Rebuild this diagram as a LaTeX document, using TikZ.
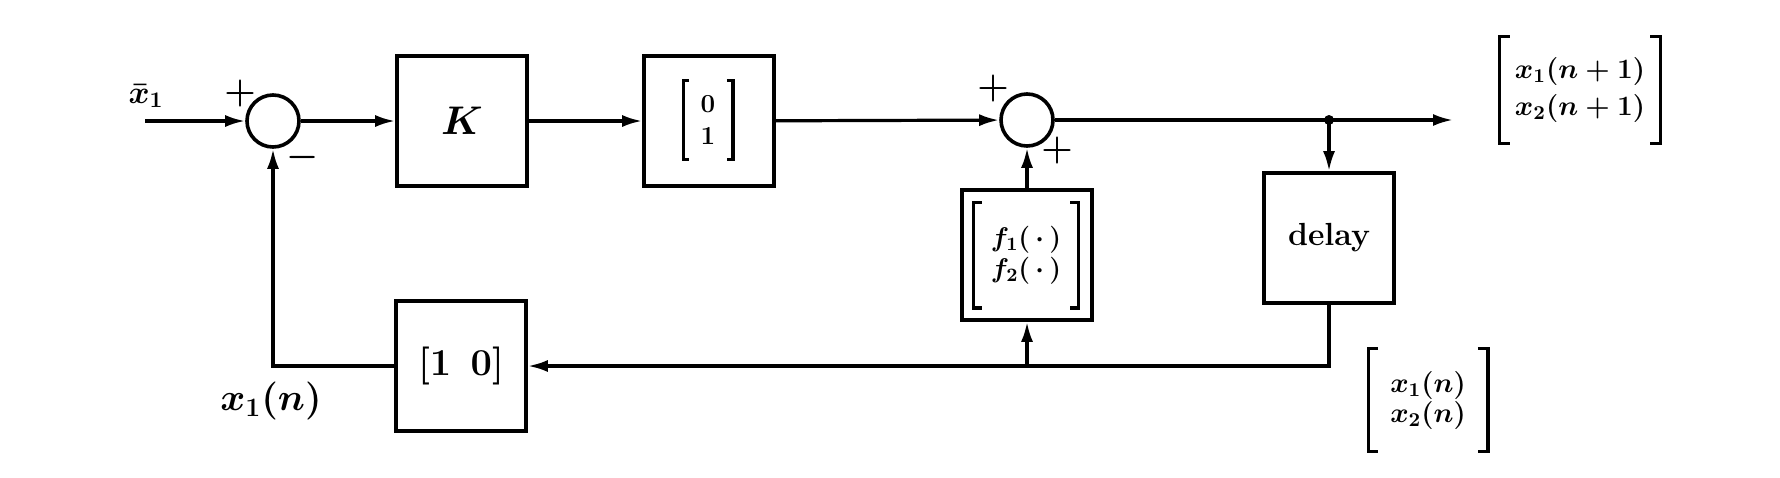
\RequirePackage{fix-cm}
\documentclass[tikz,border=0pt]{standalone}
\usetikzlibrary{arrows.meta}
\newcommand\drawbrk[2]{%
  \draw[brk] ([xshift=#2]#1.north west) -- (#1.north west) -- (#1.south west) -- ([xshift=#2]#1.south west);
  \draw[brk] ([xshift=-#2]#1.north east) -- (#1.north east) -- (#1.south east) -- ([xshift=-#2]#1.south east);}
\begin{document}
\boldmath
\begin{tikzpicture}[x=0.5pt,y=-0.5pt,
  blk/.style={draw,line width=1.8pt,minimum width=65pt,minimum height=65pt,inner sep=0pt},
  sumc/.style={draw,circle,line width=1.8pt,minimum size=26pt,inner sep=0pt},
  wire/.style={line width=1.6pt},
  arr/.style={wire,-{Latex[length=10pt,width=6pt]}},
  sgn/.style={inner sep=0pt,font=\fontsize{18}{18}\selectfont},
  lbl/.style={inner sep=0pt,align=center},
  brk/.style={line width=1.6pt}
]
\fill[white] (0,0) rectangle (1780,477);
\useasboundingbox (0,0) rectangle (1780,477);

% nodes
\coordinate (in) at (145,121);
\node[sumc] (s1) at (273,121) {};
\node[blk] (K) at (462,121) {\fontsize{20}{24}\selectfont $K$};
\node[blk] (B) at (709,121) {};
\node[lbl,minimum width=24.5pt,minimum height=39pt,font=\fontsize{13}{16}\selectfont] (Bi) at (708,120) {$0$\\$1$};
\node[sumc] (s2) at (1027,120) {};
\node[blk] (F) at (1027,255) {};
\node[lbl,minimum width=52pt,minimum height=52.5pt,font=\fontsize{13.5}{15.5}\selectfont] (Fi) at (1026,255) {$f_1(\,\cdot\,)$\\$f_2(\,\cdot\,)$};
\node[blk] (D) at (1329,238) {\fontsize{16}{18}\selectfont\bfseries delay};
\node[blk] (C) at (461,366) {\fontsize{19}{22}\selectfont $[1\;\,0]$};
\coordinate (j) at (1329,120);
\coordinate (out) at (1453,120);
\coordinate (bj) at (1329,366);
\coordinate (fb) at (1027,366);
\coordinate (lb) at (273,366);

% labels
\node[lbl,minimum width=80pt,minimum height=53pt,font=\fontsize{14}{18.5}\selectfont] (Xo) at (1580,90) {$x_1(n+1)$\\$x_2(n+1)$};
\node[lbl,minimum width=59.5pt,minimum height=51pt,font=\fontsize{14}{15}\selectfont] (Xn) at (1428,400) {$x_1(n)$\\$x_2(n)$};
\node[lbl,font=\fontsize{16}{18}\selectfont] (xb) at (146,96) {$\bar{x}_1$};
\node[lbl,font=\fontsize{19}{22}\selectfont] (x1n) at (271,401) {$x_1(n)$};
\node[sgn] (p1) at (240,93) {$+$};
\node[sgn] (m1) at (303,157) {$-$};
\node[sgn] (p2) at (993,88) {$+$};
\node[sgn] (p3) at (1057,150) {$+$};

% brackets
\drawbrk{Bi}{3pt}
\drawbrk{Fi}{4pt}
\drawbrk{Xo}{5pt}
\drawbrk{Xn}{5pt}

% connectors
\draw[arr] (in) -- (s1);
\draw[arr] (s1) -- (K);
\draw[arr] (K) -- (B);
\draw[arr] (B) -- (s2);
\draw[arr] (s2) -- (out);
\fill (j) circle (2.5pt);
\draw[arr] (j) -- (D);
\draw[arr] (F) -- (s2);
\draw[wire] (D.south) -- (bj) -- (fb);
\draw[arr] (fb) -- (C);
\draw[arr] (fb) -- (F);
\draw[arr] (C.west) -- (lb) -- (s1);
\end{tikzpicture}
\end{document}
